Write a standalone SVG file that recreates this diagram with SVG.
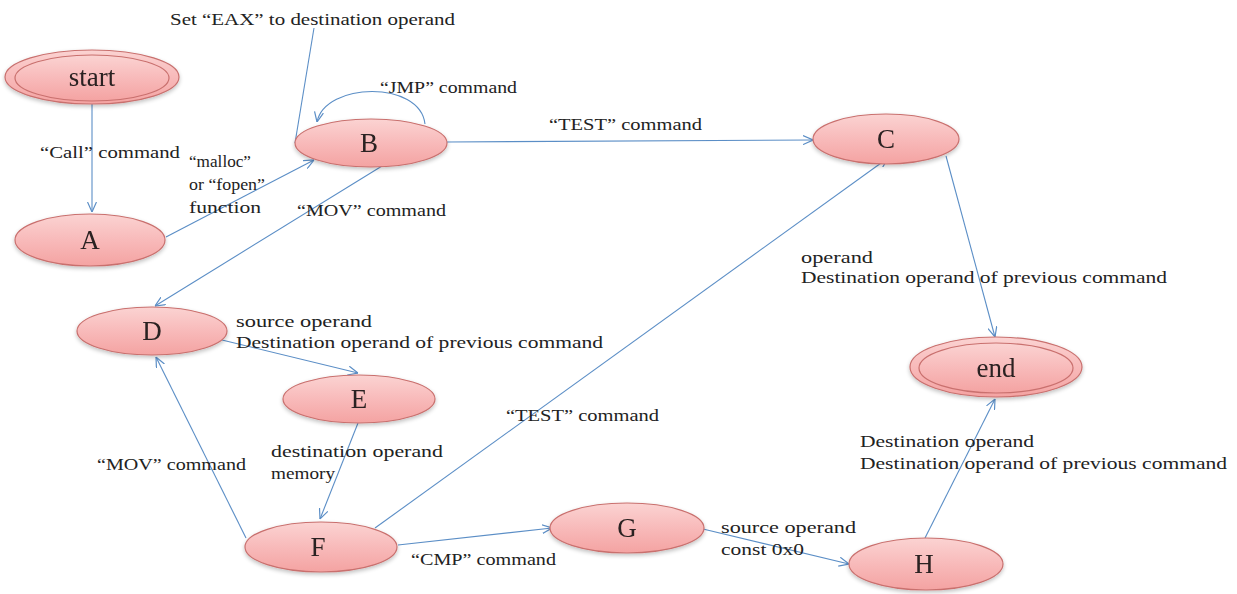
<svg xmlns="http://www.w3.org/2000/svg" width="1237" height="594" viewBox="0 0 1237 594">
<style>
.node{fill:url(#g);stroke:#c9706e;stroke-width:1.2}
.lbl{font-family:"Liberation Serif",serif;font-size:27px;fill:#2a2020;text-anchor:middle}
.t{font-family:"Liberation Serif",serif;font-size:17px;fill:#222}
.e{fill:none;stroke:#5b8ec6;stroke-width:1.1}
</style>
<defs>
<linearGradient id="g" x1="0" y1="0" x2="0" y2="1">
<stop offset="0" stop-color="#fbd3d2"/>
<stop offset="0.5" stop-color="#f8baba"/>
<stop offset="1" stop-color="#f4a3a2"/>
</linearGradient>
<filter id="sh" x="-20%" y="-30%" width="140%" height="170%">
<feGaussianBlur in="SourceAlpha" stdDeviation="2"/>
<feOffset dy="2"/>
<feComponentTransfer><feFuncA type="linear" slope="0.25"/></feComponentTransfer>
<feMerge><feMergeNode/><feMergeNode in="SourceGraphic"/></feMerge>
</filter>
<marker id="ar" viewBox="0 0 10 10" refX="10" refY="5" markerWidth="10" markerHeight="10" markerUnits="userSpaceOnUse" orient="auto">
<path d="M0,0.5 L10,5 L0,9.5" fill="none" stroke="#5b8ec6" stroke-width="1.2"/>
</marker>
</defs>
<rect width="1237" height="594" fill="#fff"/>
<g id="connectors">
<line class="e" x1="92" y1="104" x2="92" y2="212" marker-end="url(#ar)"/>
<line class="e" x1="166" y1="237" x2="314" y2="160" marker-end="url(#ar)"/>
<line class="e" x1="314" y1="28" x2="295" y2="143"/>
<path class="e" d="M425,124 C420,80 325,82 317,122" marker-end="url(#ar)"/>
<line class="e" x1="447" y1="142" x2="813" y2="140" marker-end="url(#ar)"/>
<line class="e" x1="382" y1="166" x2="155" y2="306" marker-end="url(#ar)"/>
<line class="e" x1="222" y1="340" x2="358" y2="373" marker-end="url(#ar)"/>
<line class="e" x1="358" y1="423" x2="320" y2="519" marker-end="url(#ar)"/>
<line class="e" x1="246" y1="538" x2="156" y2="357" marker-end="url(#ar)"/>
<line class="e" x1="375" y1="528" x2="888" y2="158" marker-end="url(#ar)"/>
<line class="e" x1="398" y1="545" x2="552" y2="528" marker-end="url(#ar)"/>
<line class="e" x1="703" y1="529" x2="849" y2="564" marker-end="url(#ar)"/>
<line class="e" x1="925" y1="538" x2="995" y2="399" marker-end="url(#ar)"/>
<line class="e" x1="946" y1="156" x2="995" y2="337" marker-end="url(#ar)"/>
</g>
<g id="start" filter="url(#sh)">
<ellipse class="node" cx="92" cy="77" rx="87" ry="27"/>
<ellipse class="node" cx="92" cy="78" rx="77" ry="23"/>
<text class="lbl" x="92" y="86" font-size="28">start</text>
</g>
<g id="A" filter="url(#sh)">
<ellipse class="node" cx="90" cy="240" rx="75" ry="26"/>
<text class="lbl" x="90" y="249">A</text>
</g>
<g id="B" filter="url(#sh)">
<ellipse class="node" cx="371" cy="143" rx="76" ry="24"/>
<text class="lbl" x="369" y="152">B</text>
</g>
<g id="C" filter="url(#sh)">
<ellipse class="node" cx="886" cy="139" rx="73" ry="25"/>
<text class="lbl" x="886" y="148">C</text>
</g>
<g id="D" filter="url(#sh)">
<ellipse class="node" cx="152" cy="331" rx="75" ry="24"/>
<text class="lbl" x="152" y="340">D</text>
</g>
<g id="E" filter="url(#sh)">
<ellipse class="node" cx="359" cy="399" rx="76" ry="24"/>
<text class="lbl" x="359" y="408">E</text>
</g>
<g id="F" filter="url(#sh)">
<ellipse class="node" cx="321" cy="547" rx="76" ry="25"/>
<text class="lbl" x="318" y="556">F</text>
</g>
<g id="G" filter="url(#sh)">
<ellipse class="node" cx="627" cy="528" rx="77" ry="25"/>
<text class="lbl" x="627" y="537">G</text>
</g>
<g id="H" filter="url(#sh)">
<ellipse class="node" cx="926" cy="564" rx="77" ry="26"/>
<text class="lbl" x="924" y="573">H</text>
</g>
<g id="end" filter="url(#sh)">
<ellipse class="node" cx="996" cy="367" rx="86" ry="30"/>
<ellipse class="node" cx="996" cy="368" rx="77" ry="25"/>
<text class="lbl" x="996" y="377" font-size="28">end</text>
</g>
<g id="labels">
<text class="t" x="170" y="25" textLength="285" lengthAdjust="spacingAndGlyphs">Set “EAX” to destination operand</text>
<text class="t" x="380" y="93" textLength="137" lengthAdjust="spacingAndGlyphs">“JMP” command</text>
<text class="t" x="549" y="130" textLength="153" lengthAdjust="spacingAndGlyphs">“TEST” command</text>
<text class="t" x="40" y="158" textLength="140" lengthAdjust="spacingAndGlyphs">“Call” command</text>
<text class="t" x="189" y="167" textLength="62" lengthAdjust="spacingAndGlyphs">“malloc”</text>
<text class="t" x="189" y="190" textLength="76" lengthAdjust="spacingAndGlyphs">or “fopen”</text>
<text class="t" x="189" y="213" textLength="72" lengthAdjust="spacingAndGlyphs">function</text>
<text class="t" x="297" y="216" textLength="149" lengthAdjust="spacingAndGlyphs">“MOV” command</text>
<text class="t" x="801" y="263" textLength="72" lengthAdjust="spacingAndGlyphs">operand</text>
<text class="t" x="801" y="283" textLength="366" lengthAdjust="spacingAndGlyphs">Destination operand of previous command</text>
<text class="t" x="236" y="327" textLength="136" lengthAdjust="spacingAndGlyphs">source operand</text>
<text class="t" x="236" y="348" textLength="367" lengthAdjust="spacingAndGlyphs">Destination operand of previous command</text>
<text class="t" x="506" y="421" textLength="153" lengthAdjust="spacingAndGlyphs">“TEST” command</text>
<text class="t" x="271" y="457" textLength="172" lengthAdjust="spacingAndGlyphs">destination operand</text>
<text class="t" x="271" y="479" textLength="64" lengthAdjust="spacingAndGlyphs">memory</text>
<text class="t" x="97" y="470" textLength="149" lengthAdjust="spacingAndGlyphs">“MOV” command</text>
<text class="t" x="860" y="447" textLength="174" lengthAdjust="spacingAndGlyphs">Destination operand</text>
<text class="t" x="860" y="469" textLength="367" lengthAdjust="spacingAndGlyphs">Destination operand of previous command</text>
<text class="t" x="411" y="565" textLength="145" lengthAdjust="spacingAndGlyphs">“CMP” command</text>
<text class="t" x="721" y="533" textLength="135" lengthAdjust="spacingAndGlyphs">source operand</text>
<text class="t" x="721" y="555" textLength="83" lengthAdjust="spacingAndGlyphs">const 0x0</text>
</g>
</svg>
